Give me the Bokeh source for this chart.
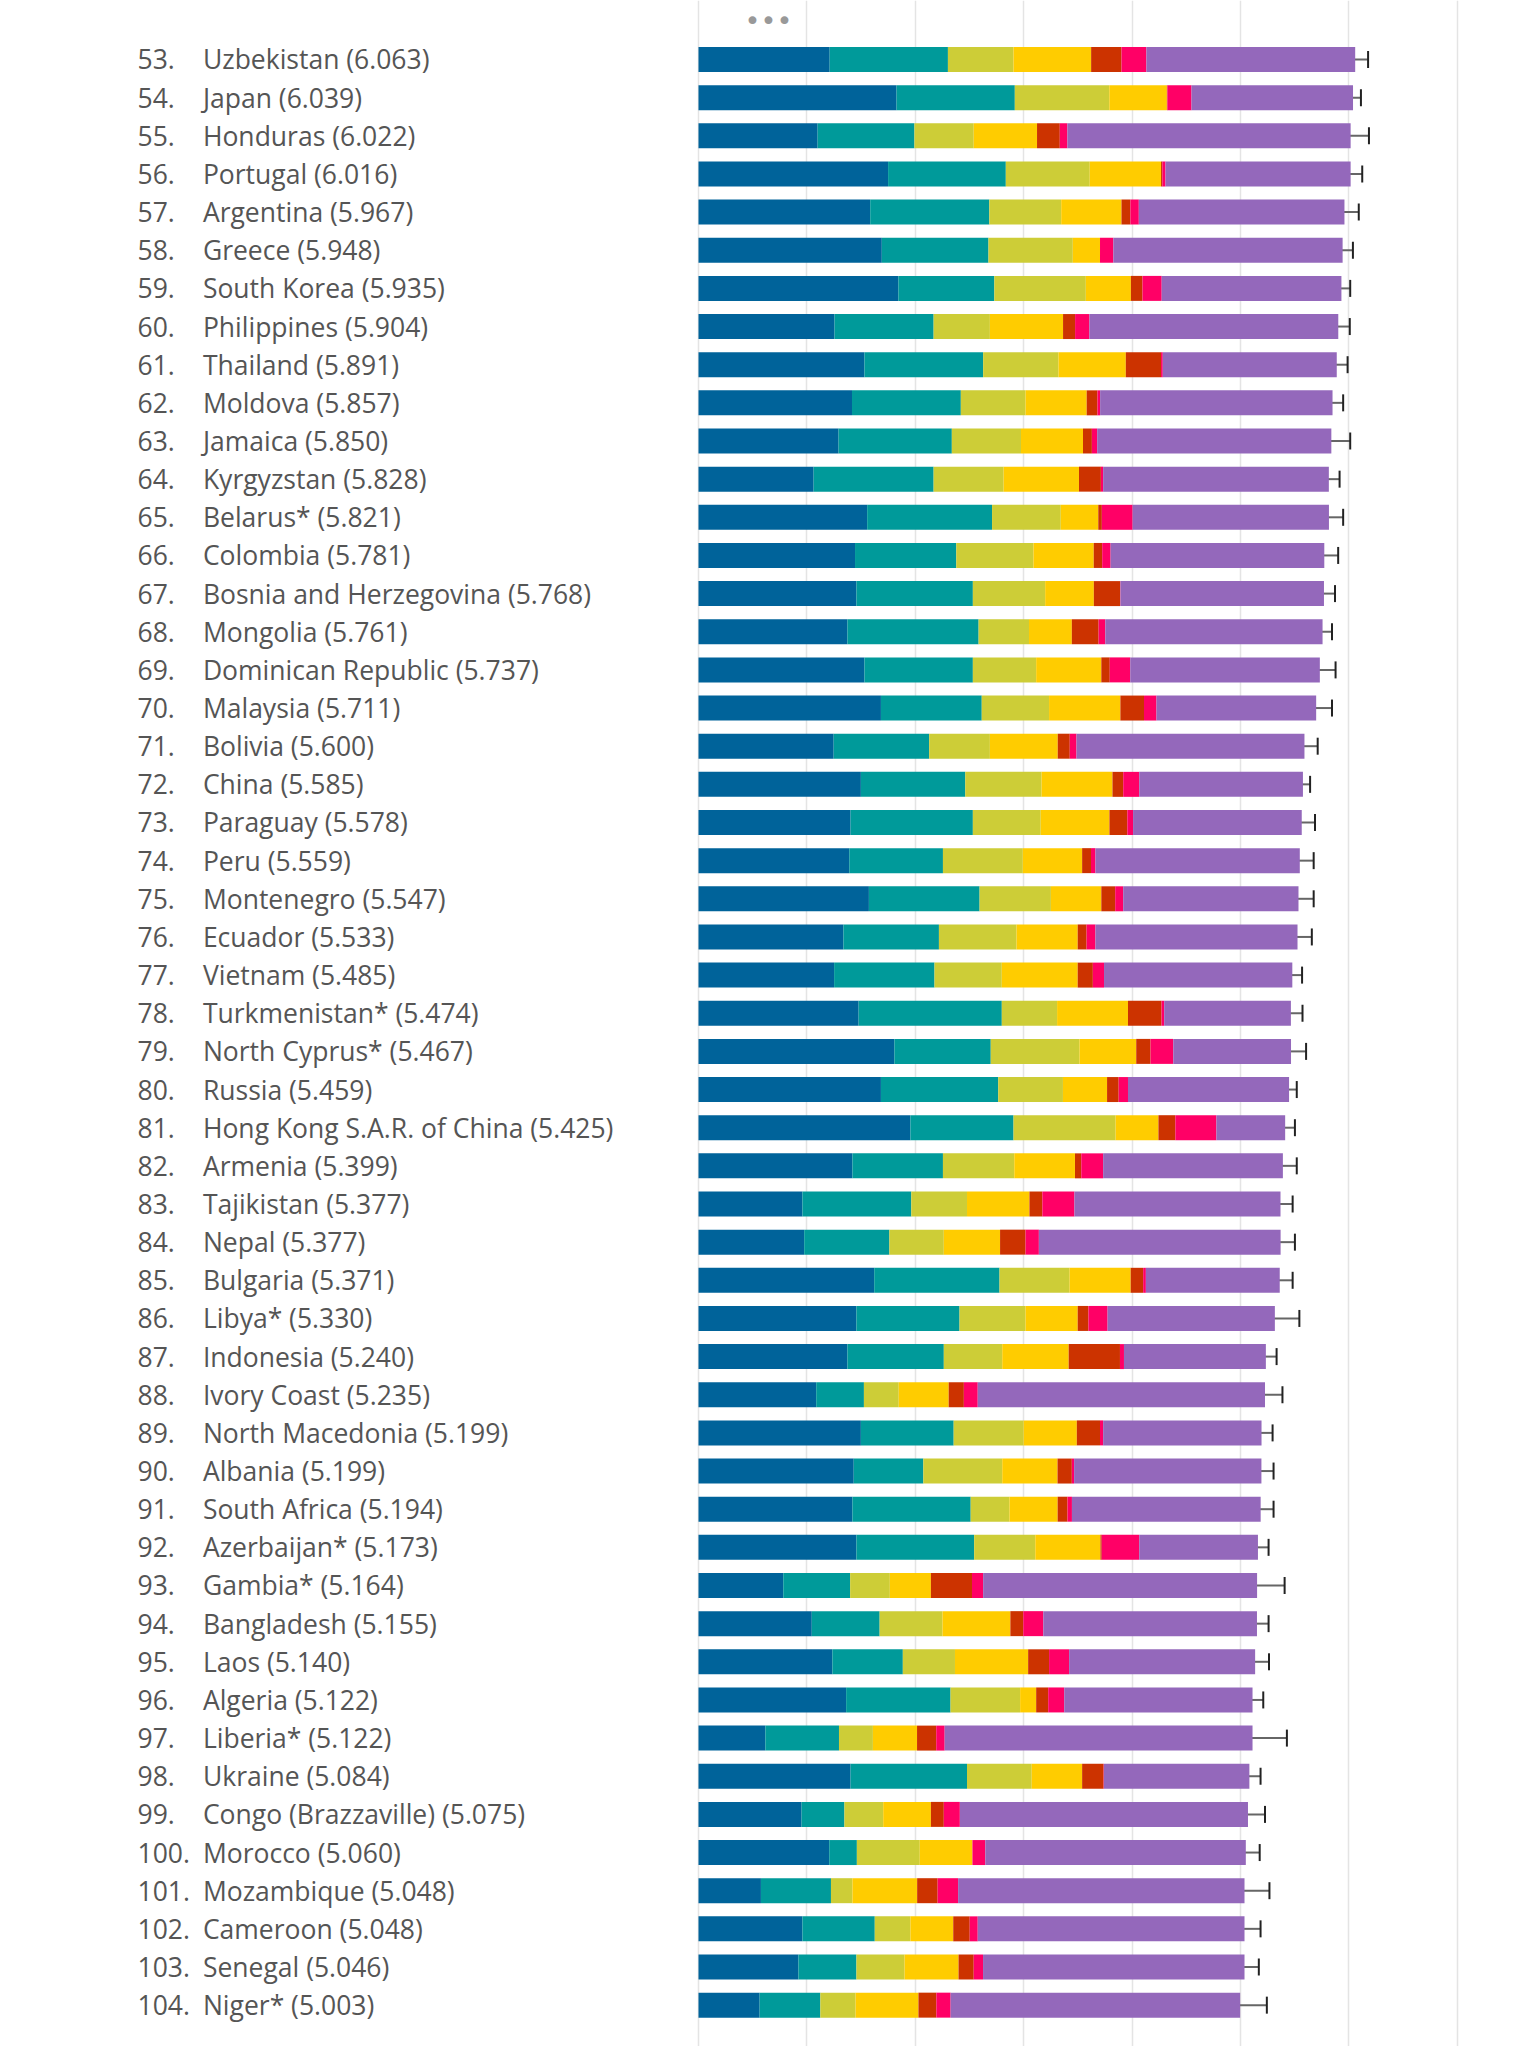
from bokeh.plotting import figure
from bokeh.models import ColumnDataSource, Range1d, Grid, FixedTicker, Whisker, TeeHead, Label
from bokeh.core.properties import value
from bokeh.embed import file_html
from bokeh.resources import INLINE

ranks = ["53.", "54.", "55.", "56.", "57.", "58.", "59.", "60.", "61.", "62.", "63.",
         "64.", "65.", "66.", "67.", "68.", "69.", "70.", "71.", "72.", "73.", "74.",
         "75.", "76.", "77.", "78.", "79.", "80.", "81.", "82.", "83.", "84.", "85.",
         "86.", "87.", "88.", "89.", "90.", "91.", "92.", "93.", "94.", "95.", "96.",
         "97.", "98.", "99.", "100.", "101.", "102.", "103.", "104."]

countries = ["Uzbekistan", "Japan", "Honduras", "Portugal", "Argentina", "Greece",
             "South Korea", "Philippines", "Thailand", "Moldova", "Jamaica",
             "Kyrgyzstan", "Belarus*", "Colombia", "Bosnia and Herzegovina", "Mongolia",
             "Dominican Republic", "Malaysia", "Bolivia", "China", "Paraguay", "Peru",
             "Montenegro", "Ecuador", "Vietnam", "Turkmenistan*", "North Cyprus*", "Russia",
             "Hong Kong S.A.R. of China", "Armenia", "Tajikistan", "Nepal", "Bulgaria",
             "Libya*", "Indonesia", "Ivory Coast", "North Macedonia", "Albania",
             "South Africa", "Azerbaijan*", "Gambia*", "Bangladesh", "Laos", "Algeria",
             "Liberia*", "Ukraine", "Congo (Brazzaville)", "Morocco", "Mozambique",
             "Cameroon", "Senegal", "Niger*"]

scores = [6.063, 6.039, 6.022, 6.016, 5.967, 5.948, 5.935, 5.904, 5.891, 5.857, 5.850,
          5.828, 5.821, 5.781, 5.768, 5.761, 5.737, 5.711, 5.600, 5.585, 5.578, 5.559,
          5.547, 5.533, 5.485, 5.474, 5.467, 5.459, 5.425, 5.399, 5.377, 5.377, 5.371,
          5.330, 5.240, 5.235, 5.199, 5.199, 5.194, 5.173, 5.164, 5.155, 5.140, 5.122,
          5.122, 5.084, 5.075, 5.060, 5.048, 5.048, 5.046, 5.003]

gdp = [1.210, 1.827, 1.099, 1.749, 1.584, 1.691, 1.844, 1.255, 1.531, 1.416, 1.292,
       1.062, 1.556, 1.444, 1.457, 1.374, 1.531, 1.683, 1.247, 1.498, 1.403, 1.391,
       1.572, 1.337, 1.251, 1.477, 1.807, 1.683, 1.955, 1.420, 0.959, 0.975, 1.621,
       1.457, 1.374, 1.086, 1.498, 1.432, 1.420, 1.457, 0.782, 1.045, 1.235, 1.362,
       0.617, 1.403, 0.951, 1.206, 0.576, 0.959, 0.922, 0.564]

social = [1.091, 1.091, 0.893, 1.086, 1.099, 0.984, 0.885, 0.914, 1.095, 1.004, 1.045,
          1.107, 1.152, 0.934, 1.074, 1.210, 1.000, 0.930, 0.881, 0.963, 1.128, 0.864,
          1.021, 0.881, 0.926, 1.321, 0.889, 1.082, 0.951, 0.835, 1.004, 0.786, 1.156,
          0.951, 0.889, 0.440, 0.856, 0.642, 1.091, 1.086, 0.617, 0.626, 0.650, 0.963,
          0.679, 1.074, 0.395, 0.255, 0.646, 0.667, 0.535, 0.560]

health = [0.605, 0.872, 0.547, 0.774, 0.663, 0.778, 0.844, 0.519, 0.695, 0.597, 0.638,
          0.646, 0.634, 0.712, 0.667, 0.465, 0.584, 0.621, 0.560, 0.704, 0.626, 0.737,
          0.658, 0.716, 0.621, 0.510, 0.819, 0.597, 0.942, 0.658, 0.514, 0.502, 0.646,
          0.609, 0.539, 0.321, 0.646, 0.728, 0.358, 0.564, 0.366, 0.580, 0.481, 0.642,
          0.313, 0.597, 0.358, 0.580, 0.198, 0.329, 0.444, 0.325]

freedom = [0.716, 0.531, 0.584, 0.658, 0.556, 0.251, 0.416, 0.675, 0.621, 0.564, 0.572,
           0.695, 0.346, 0.556, 0.449, 0.395, 0.601, 0.658, 0.626, 0.654, 0.634, 0.547,
           0.465, 0.564, 0.700, 0.654, 0.523, 0.407, 0.395, 0.560, 0.576, 0.519, 0.564,
           0.481, 0.613, 0.461, 0.490, 0.510, 0.444, 0.601, 0.379, 0.626, 0.675, 0.148,
           0.407, 0.465, 0.440, 0.486, 0.597, 0.395, 0.498, 0.580]

generosity = [0.280, 0.005, 0.210, 0.012, 0.082, 0.000, 0.107, 0.111, 0.325, 0.099, 0.082,
              0.202, 0.033, 0.078, 0.243, 0.247, 0.078, 0.218, 0.111, 0.099, 0.165, 0.082,
              0.128, 0.082, 0.140, 0.309, 0.132, 0.107, 0.156, 0.058, 0.119, 0.235, 0.115,
              0.099, 0.473, 0.140, 0.214, 0.132, 0.091, 0.012, 0.379, 0.119, 0.193, 0.111,
              0.177, 0.198, 0.119, 0.000, 0.189, 0.152, 0.140, 0.165]

corruption = [0.230, 0.222, 0.070, 0.029, 0.078, 0.123, 0.177, 0.132, 0.016, 0.025, 0.049,
              0.021, 0.284, 0.078, 0.003, 0.062, 0.189, 0.115, 0.062, 0.148, 0.053, 0.041,
              0.074, 0.082, 0.103, 0.025, 0.210, 0.086, 0.379, 0.202, 0.296, 0.123, 0.025,
              0.177, 0.037, 0.128, 0.029, 0.021, 0.041, 0.346, 0.103, 0.185, 0.185, 0.148,
              0.078, 0.003, 0.148, 0.119, 0.189, 0.074, 0.086, 0.132]

dystopia = [1.926, 1.490, 2.613, 1.708, 1.897, 2.115, 1.658, 2.296, 1.605, 2.144, 2.160,
            2.082, 1.811, 1.971, 1.877, 2.004, 1.749, 1.473, 2.103, 1.510, 1.556, 1.885,
            1.617, 1.864, 1.737, 1.169, 1.086, 1.486, 0.634, 1.658, 1.901, 2.230, 1.235,
            1.543, 1.309, 2.650, 1.461, 1.728, 1.741, 1.095, 2.527, 1.971, 1.716, 1.737,
            2.840, 1.342, 2.658, 2.403, 2.642, 2.461, 2.412, 2.671]

ci_low = [5.942, 5.951, 5.844, 5.897, 5.835, 5.844, 5.835, 5.790, 5.786, 5.749, 5.671,
          5.737, 5.679, 5.650, 5.650, 5.667, 5.584, 5.568, 5.486, 5.510, 5.453, 5.428,
          5.403, 5.403, 5.387, 5.362, 5.321, 5.375, 5.333, 5.263, 5.276, 5.247, 5.247,
          5.111, 5.132, 5.082, 5.091, 5.074, 5.074, 5.074, 4.918, 5.041, 5.004, 5.021,
          4.811, 4.967, 4.910, 4.934, 4.811, 4.910, 4.918, 4.749]

ci_high = [6.177, 6.111, 6.185, 6.123, 6.091, 6.037, 6.012, 6.008, 5.988, 5.947, 6.012,
           5.914, 5.947, 5.901, 5.872, 5.844, 5.877, 5.844, 5.712, 5.642, 5.687, 5.675,
           5.675, 5.658, 5.568, 5.572, 5.605, 5.519, 5.502, 5.519, 5.481, 5.502, 5.481,
           5.543, 5.333, 5.387, 5.296, 5.305, 5.305, 5.259, 5.407, 5.259, 5.263, 5.210,
           5.428, 5.185, 5.226, 5.177, 5.267, 5.185, 5.169, 5.243]

grid_ticks = [0, 1, 2, 3, 4, 5, 6, 7]

stackers = ["gdp", "social", "health", "freedom", "generosity", "corruption", "dystopia"]
colors = ["#00639A", "#009A9A", "#CDCD37", "#FFCC00", "#CC3300", "#FF0066", "#9468BB"]

labels = [f"{c} ({s:.3f})" for c, s in zip(countries, scores)]
rows = list(range(len(countries)))

source = ColumnDataSource(dict(
    y=rows, rank=ranks, label=labels,
    gdp=gdp, social=social, health=health, freedom=freedom,
    generosity=generosity, corruption=corruption, dystopia=dystopia,
    lo=ci_low, hi=ci_high,
))

p = figure(width=1536, height=2046, output_backend="svg", toolbar_location=None,
           x_range=Range1d(-6.4391, 7.7306), y_range=Range1d(52.084, -1.5465),
           x_axis_location=None, y_axis_location=None, min_border=0)
p.outline_line_color = None
p.background_fill_color = "white"
for g in p.grid:
    g.visible = False

grid = Grid(dimension=0, ticker=FixedTicker(ticks=grid_ticks), bounds=(-0.498, 53),
            grid_line_color="#e4e4e4", grid_line_width=1.5)
p.add_layout(grid)

p.hbar_stack(stackers, y="y", height=0.655, fill_color=colors, line_color=None, source=source)

whisker = Whisker(source=source, base="y", lower="lo", upper="hi", dimension="width",
                  line_color="#666666", line_width=2,
                  lower_head=TeeHead(size=17, line_color="#222222", line_width=2),
                  upper_head=TeeHead(size=17, line_color="#222222", line_width=2))
p.add_layout(whisker)

p.text(x=-5.1753, y="y", text="rank", source=source, text_font=value("Open Sans"),
       text_font_size="26.5px", text_color="#555555", text_baseline="middle", text_align="left")
p.text(x=-4.5720, y="y", text="label", source=source, text_font=value("Open Sans"),
       text_font_size="26.5px", text_color="#555555", text_baseline="middle", text_align="left")

p.add_layout(Label(x=0.6458, y=-1.022, text="•••", text_align="center", text_baseline="middle",
                   text_color="#999999", text_font_size="27px", text_font="DejaVu Sans"))

open("out.html", "w").write(file_html(p, INLINE))
